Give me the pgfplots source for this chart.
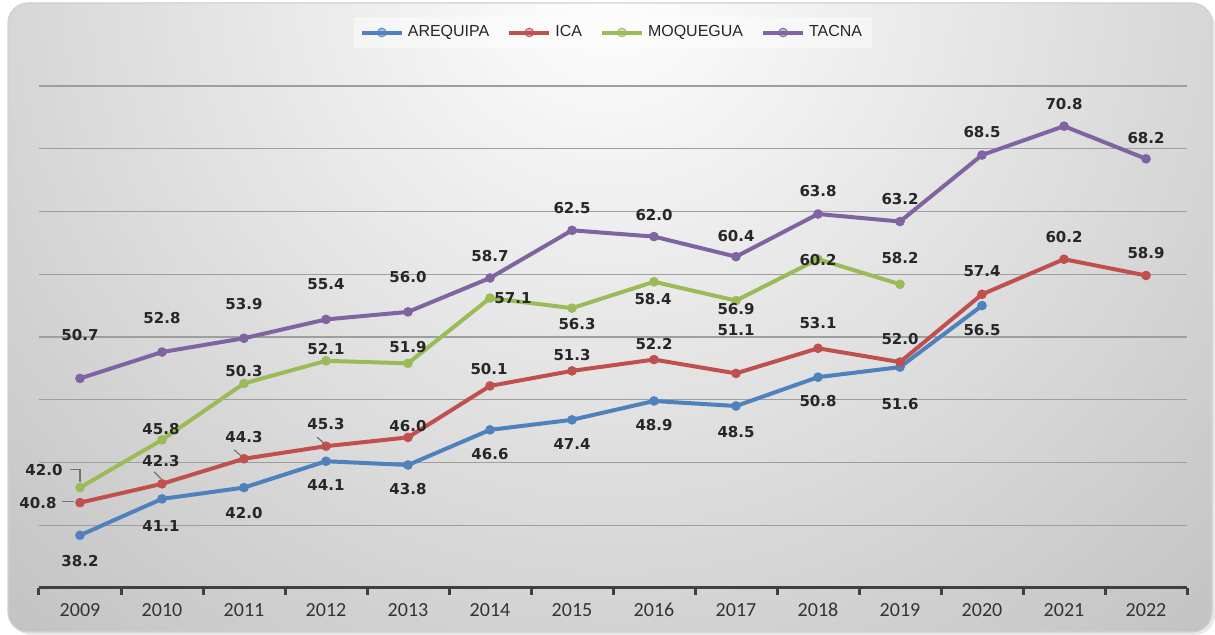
\documentclass[border=0pt]{standalone}
\usepackage{fontspec}
\setmainfont{Carlito}
\newfontfamily\lblfont{DejaVu Sans}
\newfontfamily\legfont{Liberation Sans}
\usepackage{pgfplots}
\pgfplotsset{compat=1.18}
\usepackage{pgfplotstable}

\definecolor{arecol}{HTML}{4F81BD}
\definecolor{icacol}{HTML}{C0504D}
\definecolor{moqcol}{HTML}{9BBB59}
\definecolor{taccol}{HTML}{8064A2}

% x = year index (0 = 2009), dx/dy = label offset in pt
\pgfplotstableread{
x y dx dy
0 38.2 0 -13
1 41.1 -0.5 -13.5
2 42.0 0 -12.5
3 44.1 0 -12
4 43.8 0 -12
5 46.6 0 -12
6 47.4 0 -12
7 48.9 0 -12
8 48.5 0 -13
9 50.8 0 -12
10 51.6 0 -18.5
11 56.5 0 -12
}\arequipa

\pgfplotstableread{
x y dx dy
0 40.8 -21 0
1 42.3 -0.5 11.5
2 44.3 0 11
3 45.3 0 11
4 46.0 0 5.5
5 50.1 -0.5 8.5
6 51.3 0 8
7 52.2 0 8
8 51.1 0 21.5
9 53.1 0 12.5
10 52.0 0 11.5
11 57.4 0 11.5
12 60.2 0 11
13 58.9 0 11
}\ica

\pgfplotstableread{
x y dx dy
0 42.0 -18 9
1 45.8 -0.5 5.5
2 50.3 0 6
3 52.1 0 6
4 51.9 0 8
5 57.1 11.5 0
6 56.3 2.5 -8
7 58.4 -0.5 -8.5
8 56.9 0 -4
9 60.2 0 -0.5
10 58.2 0 13
}\moquegua

\pgfplotstableread{
x y dx dy
0 50.7 0 21.5
1 52.8 0 17
2 53.9 0 17
3 55.4 0 17.5
4 56.0 0 17.5
5 58.7 0 11
6 62.5 0 11
7 62.0 0 11
8 60.4 0 10.5
9 63.8 0 11.5
10 63.2 0 11
11 68.5 0 11.5
12 70.8 0 11
13 68.2 0 10.5
}\tacna

\begin{document}
\begin{tikzpicture}
\useasboundingbox (0,0) rectangle (607.5pt,317.5pt);
% background panel
\fill[black!9, rounded corners=10pt] (5.5pt,0pt) rectangle (607.5pt,314.5pt);
\begin{scope}
\clip[rounded corners=10pt] (4pt,1.5pt) rectangle (606pt,316pt);
\fill[black!25] (0,0) rectangle (607.5pt,317.5pt);
\shade[inner color=white, outer color=black!25] (305pt,330pt) circle (470pt);
\end{scope}
\draw[black!18, line width=0.6pt, rounded corners=10pt] (4pt,1.5pt) rectangle (606pt,316pt);

\begin{axis}[
    at={(19.5pt,23.5pt)}, anchor=south west,
    scale only axis,
    width=574pt, height=251pt,
    xmin=-0.5, xmax=13.5,
    ymin=34, ymax=74,
    axis x line*=bottom,
    axis y line*=left,
    y axis line style={draw=none},
    x axis line style={black!75, line width=1.5pt},
    ytick={34,39,...,74},
    yticklabels={},
    ytick style={draw=none},
    ymajorgrids,
    major grid style={black!38, line width=0.6pt},
    xtick={0,...,13},
    xticklabels={2009,2010,2011,2012,2013,2014,2015,2016,2017,2018,2019,2020,2021,2022},
    minor xtick={-0.5,0.5,...,13.5},
    tick align=outside,
    major tick length=0pt,
    minor tick length=3.5pt,
    every minor x tick/.append style={black!75, line width=1.5pt},
    xticklabel style={font=\fontsize{10}{12}\selectfont, text=black!80, yshift=-4pt},
    legend style={at={(0.5,1)}, anchor=south, yshift=19pt,
        legend columns=-1, draw=none, fill=white, fill opacity=0.45, text opacity=1,
        font=\legfont\fontsize{8}{9.5}\selectfont, text=black!85,
        /tikz/every even column/.append style={column sep=7pt}},
    legend image code/.code={\draw[mark repeat=2,mark phase=2,#1] plot coordinates {(0pt,0pt) (10pt,0pt) (20pt,0pt)};},
    every axis plot/.append style={line width=2pt, mark=*, mark size=2.2pt, mark options={solid, line width=0.4pt}},
    /pgf/number format/assume math mode=true,
    nodes near coords={\pgfmathprintnumber[fixed,fixed zerofill,precision=1]{\pgfplotspointmeta}},
    visualization depends on={\thisrow{dx}\as\dx},
    visualization depends on={\thisrow{dy}\as\dy},
    every node near coord/.append style={anchor=center, xshift=\dx pt, yshift=\dy pt,
        font=\lblfont\bfseries\fontsize{7.5}{9}\selectfont, text=black!85, inner sep=0pt},
]
\addplot[arecol] table[x=x,y=y]{\arequipa};
\addlegendentry{AREQUIPA}
\addplot[icacol] table[x=x,y=y]{\ica};
\addlegendentry{ICA}
\addplot[moqcol] table[x=x,y=y]{\moquegua};
\addlegendentry{MOQUEGUA}
\addplot[taccol] table[x=x,y=y]{\tacna};
\addlegendentry{TACNA}

% leader lines of moved labels
\draw[black!55, line width=0.6pt] (axis cs:0,40.8) ++(-3pt,0.5pt) -- ++(-6pt,0pt);
\draw[black!55, line width=0.6pt] (axis cs:0,42.0) ++(-5pt,9pt) -- ++(5pt,0pt) -- ++(0pt,-6pt);
\draw[black!55, line width=0.6pt] (axis cs:1,42.3) ++(-4pt,6pt) -- ++(3.5pt,-3.5pt);
\draw[black!55, line width=0.6pt] (axis cs:2,44.3) ++(-5pt,4.5pt) -- ++(3.5pt,-3pt);
\draw[black!55, line width=0.6pt] (axis cs:3,45.3) ++(-4.5pt,4.5pt) -- ++(3.5pt,-3pt);
\end{axis}
\end{tikzpicture}
\end{document}
